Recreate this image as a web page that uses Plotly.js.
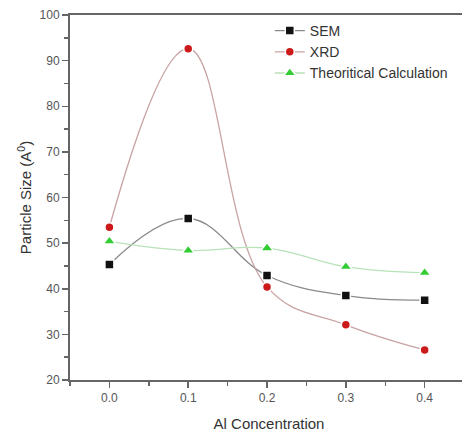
<!DOCTYPE html>
<html><head><meta charset="utf-8">
<script src="https://cdn.plot.ly/plotly-3.0.1.min.js"></script>
<style>html,body{margin:0;padding:0;overflow:hidden;background:#fff}#c{width:468px;height:435px}</style>
</head><body><div id="c"></div>
<script>
const conc = [0.0, 0.1, 0.2, 0.3, 0.4];
const sem = [45.3, 55.4, 42.9, 38.5, 37.5];
const xrd = [53.5, 92.6, 40.4, 32.1, 26.6];
const theo = [50.4, 48.4, 48.9, 44.8, 43.5];
const names = ['SEM', 'XRD', 'Theoritical Calculation'];
const xTicks = ['0.0', '0.1', '0.2', '0.3', '0.4'];

function tr(y, name, lineColor, mColor, sym, size) {
  return {x: conc, y: y, name: name, type: 'scatter', mode: 'lines+markers',
    line: {shape: 'spline', smoothing: 1.15, color: lineColor, width: 1.3},
    marker: {symbol: sym, size: size, color: mColor, line: {color: '#fff', width: 1.5}}};
}
const data = [
  tr(sem, names[0], '#8a8a8a', '#111111', 'square', 9),
  tr(xrd, names[1], '#c9a3a3', '#cc1a1a', 'circle', 9),
  tr(theo, names[2], '#b8e2b8', '#33cc33', 'triangle-up', 11)
];
const font = {family: 'Liberation Sans, Arial, sans-serif', color: '#444'};
const layout = {
  width: 468, height: 435,
  margin: {l: 70, r: 0, t: 15, b: 55},
  paper_bgcolor: '#fff', plot_bgcolor: '#fff',
  font: font,
  showlegend: true,
  legend: {x: 0.502, y: 1.0, xanchor: 'left', yanchor: 'top', bgcolor: 'rgba(0,0,0,0)',
    font: {size: 14, color: '#333', family: font.family}, tracegroupgap: 0, itemwidth: 30},
  xaxis: {range: [-0.05, 0.455], tickvals: conc, ticktext: xTicks,
    showline: true, linecolor: '#666', linewidth: 2, mirror: true,
    ticks: 'outside', ticklen: 6, tickwidth: 1.5, tickcolor: '#666',
    minor: {ticks: 'outside', dtick: 0.05, tick0: 0, ticklen: 4, tickcolor: '#666', tickwidth: 1.5},
    showgrid: false, zeroline: false,
    tickfont: {size: 12, color: '#555'},
    title: {text: 'Al Concentration', font: {size: 15, color: '#333'}, standoff: 14}},
  yaxis: {range: [20, 100], dtick: 10, tick0: 0,
    showline: true, linecolor: '#666', linewidth: 2, mirror: true,
    ticks: 'outside', ticklen: 6, tickwidth: 1.5, tickcolor: '#666',
    minor: {ticks: 'outside', dtick: 5, ticklen: 4, tickcolor: '#666', tickwidth: 1.5},
    showgrid: false, zeroline: false,
    tickfont: {size: 12, color: '#555'},
    title: {text: 'Particle Size (A<sup>0</sup>)', font: {size: 15, color: '#333'}, standoff: 4}}
};
Plotly.newPlot('c', data, layout, {displayModeBar: false, staticPlot: true});
</script></body></html>
